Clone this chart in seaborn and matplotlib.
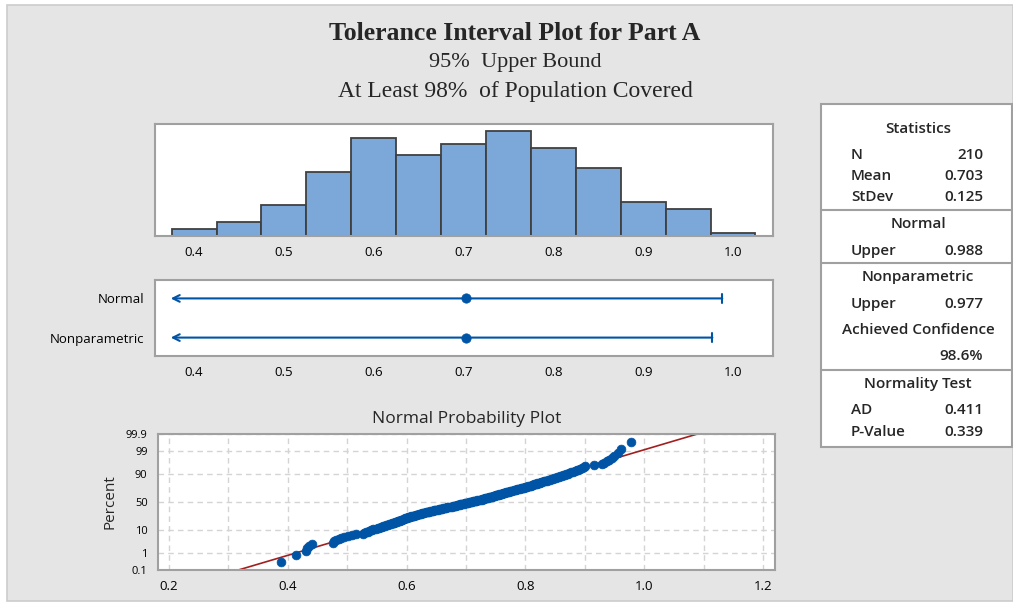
from statistics import NormalDist

import matplotlib

matplotlib.use("Agg")
import matplotlib.pyplot as plt
import numpy as np
import pandas as pd
import seaborn as sns
from matplotlib.patches import Rectangle

part_a = [
    0.389, 0.414,
    0.431, 0.433, 0.436, 0.440,
    0.476, 0.478, 0.481, 0.486, 0.490, 0.494, 0.501, 0.508, 0.515,
    0.527, 0.529, 0.532, 0.535, 0.537, 0.540, 0.541, 0.544, 0.548, 0.551,
    0.553, 0.556, 0.558, 0.561, 0.563, 0.566, 0.568, 0.571, 0.574,
    0.576, 0.578, 0.579, 0.581, 0.583, 0.585, 0.586, 0.588, 0.590, 0.591,
    0.593, 0.595, 0.596, 0.598, 0.600, 0.601, 0.603, 0.605, 0.606, 0.608,
    0.610, 0.611, 0.613, 0.615, 0.616, 0.618, 0.620, 0.622, 0.624,
    0.626, 0.628, 0.630, 0.632, 0.634, 0.636, 0.638, 0.640, 0.642, 0.644,
    0.646, 0.648, 0.650, 0.652, 0.654, 0.656, 0.658, 0.660, 0.662, 0.664,
    0.666, 0.668, 0.670, 0.673,
    0.676, 0.678, 0.680, 0.681, 0.683, 0.685, 0.687, 0.689, 0.690, 0.692,
    0.694, 0.696, 0.698, 0.699, 0.701, 0.703, 0.705, 0.707, 0.708, 0.710,
    0.712, 0.714, 0.716, 0.717, 0.719, 0.721, 0.723,
    0.726, 0.727, 0.729, 0.731, 0.732, 0.734, 0.735, 0.737, 0.739, 0.740,
    0.742, 0.743, 0.745, 0.747, 0.748, 0.750, 0.751, 0.753, 0.755, 0.756,
    0.758, 0.759, 0.761, 0.763, 0.764, 0.766, 0.767, 0.769, 0.771, 0.772,
    0.774,
    0.776, 0.778, 0.780, 0.782, 0.784, 0.786, 0.788, 0.790, 0.792, 0.794,
    0.796, 0.798, 0.800, 0.801, 0.803, 0.805, 0.807, 0.809, 0.811, 0.813,
    0.815, 0.817, 0.819, 0.820, 0.822, 0.824,
    0.826, 0.828, 0.831, 0.833, 0.836, 0.838, 0.841, 0.843, 0.846, 0.848,
    0.851, 0.853, 0.856, 0.858, 0.861, 0.863, 0.866, 0.868, 0.871, 0.873,
    0.877, 0.880, 0.883, 0.886, 0.889, 0.892, 0.895, 0.898, 0.900, 0.916,
    0.928, 0.932, 0.937, 0.941, 0.945, 0.949, 0.955, 0.960,
    0.978,
]
bin_edges = [0.375, 0.425, 0.475, 0.525, 0.575, 0.625, 0.675, 0.725,
             0.775, 0.825, 0.875, 0.925, 0.975, 1.025]

methods = ["Normal", "Nonparametric"]
upper_bounds = [0.988, 0.977]
lower_arrow = 0.374

n_obs = 210
mean_val = 0.703
sd_val = 0.125

pct_ticks = [0.1, 1, 10, 50, 90, 99, 99.9]
pct_labels = ["0.1", "1", "10", "50", "90", "99", "99.9"]

stats_rows = [
    ("head", "Statistics", ""),
    ("row", "N", "210"),
    ("row", "Mean", "0.703"),
    ("row", "StDev", "0.125"),
    ("line", "", ""),
    ("head", "Normal", ""),
    ("row", "Upper", "0.988"),
    ("line", "", ""),
    ("head", "Nonparametric", ""),
    ("row", "Upper", "0.977"),
    ("head", "Achieved Confidence", ""),
    ("row", "", "98.6%"),
    ("line", "", ""),
    ("head", "Normality Test", ""),
    ("row", "AD", "0.411"),
    ("row", "P-Value", "0.339"),
]

W, H = 1013, 605
BAR = "#7ba7d9"
BLUE = "#0054a6"
RED = "#a31f1f"
SPINE = "#a0a0a0"
SANS = ["Open Sans", "DejaVu Sans"]


def rect(x0, y0, x1, y1):
    return [x0 / W, 1 - y1 / H, (x1 - x0) / W, (y1 - y0) / H]


def fy(y):
    return 1 - y / H


def style_axes(ax):
    for s in ax.spines.values():
        s.set_color(SPINE)
        s.set_linewidth(1.5)
    ax.set_facecolor("white")
    ax.tick_params(colors=SPINE, labelcolor="black", labelsize=9.5, length=4)


sns.set_style("white")
plt.rcParams["font.family"] = SANS

fig = plt.figure(figsize=(W / 100, H / 100), dpi=100, facecolor="white")
fig.patches.append(Rectangle((7 / W, fy(601)), (W - 7) / W, (601 - 5) / H,
                             transform=fig.transFigure, facecolor="#e5e5e5",
                             edgecolor="#cccccc", linewidth=1.2, zorder=-10))

# titles
fig.text(515 / W, fy(33), "Tolerance Interval Plot for Part A", ha="center",
         va="center", family="Liberation Serif", weight="bold", fontsize=18.5)
fig.text(515 / W, fy(62), "95%  Upper Bound", ha="center", va="center",
         family="Liberation Serif", fontsize=16)
fig.text(515 / W, fy(92), "At Least 98%  of Population Covered", ha="center",
         va="center", family="Liberation Serif", fontsize=17)

# histogram
ax1 = fig.add_axes(rect(155, 124, 773, 236))
sns.histplot(x=part_a, bins=bin_edges, color=BAR, edgecolor="#404040",
             linewidth=1.3, alpha=1, ax=ax1)
ax1.set_xlim(0.3565, 1.0445)
ax1.set_ylim(0, 33)
ax1.set_xticks(np.round(np.arange(0.4, 1.01, 0.1), 1))
ax1.set_yticks([])
ax1.set_xlabel("")
ax1.set_ylabel("")
style_axes(ax1)

# interval plot
ax2 = fig.add_axes(rect(155, 280, 773, 356))
iv = pd.DataFrame({"method": methods, "upper": upper_bounds})
for i, row in iv.iterrows():
    ax2.annotate("", xy=(lower_arrow, i), xytext=(row["upper"], i),
                 arrowprops=dict(arrowstyle="->", color=BLUE, lw=1.5,
                                 shrinkA=0, shrinkB=0, mutation_scale=12))
    ax2.plot([row["upper"]] * 2, [i - 0.12, i + 0.12], color=BLUE, lw=1.5)
sns.scatterplot(x=[mean_val] * len(methods), y=range(len(methods)), color=BLUE,
                s=45, edgecolor=BLUE, ax=ax2, zorder=5)
ax2.set_xlim(0.3565, 1.0445)
ax2.set_ylim(1.47, -0.47)
ax2.set_yticks(range(len(methods)))
ax2.set_yticklabels(methods)
ax2.set_xticks(np.round(np.arange(0.4, 1.01, 0.1), 1))
style_axes(ax2)

# normal probability plot
nd = NormalDist()
srt = np.sort(part_a)
ranks = np.arange(1, len(srt) + 1)
z = [nd.inv_cdf((r - 0.3) / (len(srt) + 0.4)) for r in ranks]
ax3 = fig.add_axes(rect(158, 434, 775, 570))
zlo, zhi = nd.inv_cdf(0.001), nd.inv_cdf(0.999)
sns.lineplot(x=[mean_val + zlo * sd_val, mean_val + zhi * sd_val], y=[zlo, zhi],
             color=RED, lw=1.2, ax=ax3, zorder=2)
sns.scatterplot(x=srt, y=z, color=BLUE, edgecolor=BLUE, s=40, ax=ax3, zorder=3)
ax3.set_xlim(0.1815, 1.22)
ax3.set_ylim(zlo, zhi)
ax3.set_xticks(np.round(np.arange(0.2, 1.21, 0.2), 1))
ax3.set_xticks(np.round(np.arange(0.3, 1.2, 0.2), 1), minor=True)
ax3.set_yticks([nd.inv_cdf(p / 100) for p in pct_ticks])
ax3.set_yticklabels(pct_labels)
ax3.grid(True, which="both", linestyle=(0, (4, 3)), color="#d4d4d4", lw=1)
ax3.tick_params(which="minor", length=0)
ax3.set_axisbelow(True)
style_axes(ax3)
ax3.tick_params(axis="y", labelsize=8)
ax3.set_ylabel("Percent", fontsize=11, labelpad=6)
ax3.set_title("Normal Probability Plot", fontsize=12.5, pad=8)

# statistics table
fig.patches.append(Rectangle((821 / W, fy(447)), (1012 - 821) / W, (447 - 104) / H,
                             transform=fig.transFigure, facecolor="white",
                             edgecolor=SPINE, linewidth=1.5, zorder=1))
row_y = [129, 155, 176, 197, 210, 224, 251, 263, 277, 304, 330, 356, 370,
         384, 410, 432]
for (kind, label, value), y in zip(stats_rows, row_y):
    if kind == "line":
        fig.add_artist(plt.Line2D([821 / W, 1012 / W], [fy(y), fy(y)],
                                  color=SPINE, lw=1.5))
    elif kind == "head":
        fig.text(918 / W, fy(y), label, ha="center", va="center",
                 fontsize=11, weight="semibold")
    else:
        fig.text(851 / W, fy(y), label, ha="left", va="center",
                 fontsize=11, weight="semibold")
        fig.text(983 / W, fy(y), value, ha="right", va="center",
                 fontsize=11, weight="semibold")

fig.savefig("out.png", dpi=100, facecolor=fig.get_facecolor())
